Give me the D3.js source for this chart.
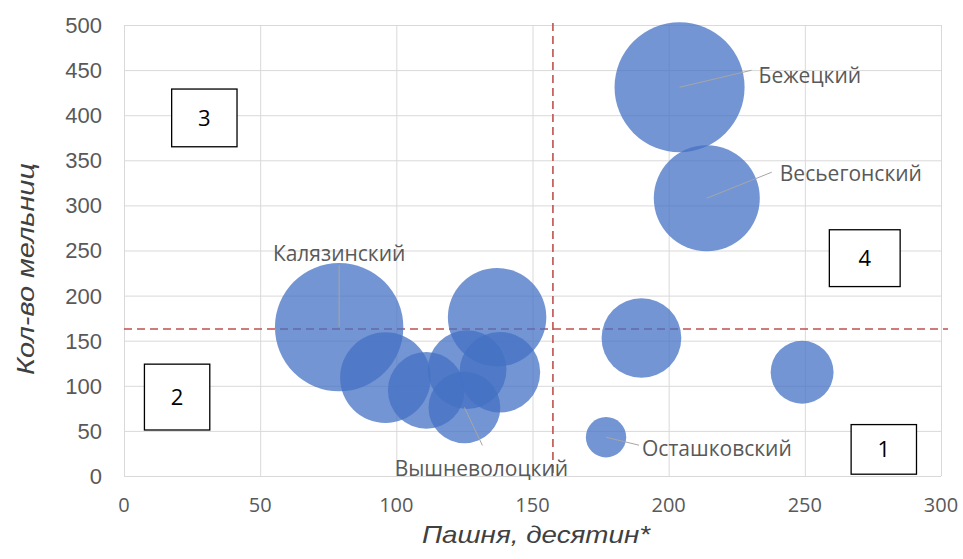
<!DOCTYPE html>
<html>
<head>
  <meta charset="utf-8">
  <title>Мельницы и пашня по уездам</title>
  <script src="https://cdnjs.cloudflare.com/ajax/libs/d3/7.8.5/d3.min.js"></script>
  <style>
    body { margin: 0; background: #fff; }
    .grid line { stroke: #d9d9d9; stroke-width: 1; }
    .tick-y { font-family: "Liberation Sans", Arial, sans-serif; font-size: 22px; fill: #595959; }
    .tick-x { font-family: "Open Sans", sans-serif; font-size: 20px; fill: #595959; }
    .axis-title { font-family: "Liberation Sans", Arial, sans-serif; font-size: 24px; font-style: italic; fill: #404040; }
    .bubble { fill: #4472c4; fill-opacity: 0.75; }
    .leader { stroke: #a6a6a6; stroke-width: 1; }
    .label { font-family: "Open Sans", sans-serif; font-size: 21px; fill: #595959; }
    .ref { stroke: #c0504d; stroke-width: 1.6; stroke-dasharray: 8 5; fill: none; }
    .quad rect { fill: #fff; stroke: #000; stroke-width: 1.3; }
    .quad text { font-family: "Open Sans", sans-serif; font-size: 22px; fill: #000; }
  </style>
</head>
<body>
  <svg width="963" height="559"></svg>
<script>
// Пашня (десятин), кол-во мельниц и размер пузыря по уездам
var xVals = [204, 214, 79, 137, 96, 111, 125, 126, 138, 190, 249, 177];
var yVals = [431, 308, 165, 176, 109, 95, 76, 118, 115, 153, 115, 43];
var sizes = [436, 290, 425, 250, 212, 152, 133, 160, 168, 164, 102, 42];
var labels = ["Бежецкий", "Весьегонский", "Калязинский", "", "", "", "Вышневолоцкий", "", "", "", "", "Осташковский"];

var xTicks = [0, 50, 100, 150, 200, 250, 300];
var yTicks = [0, 50, 100, 150, 200, 250, 300, 350, 400, 450, 500];

// средние значения (пунктирные линии)
var refX = 157.5;
var refY = 163;

// номера квадрантов
var quadNames = ["1", "2", "3", "4"];
var quadX = [[267, 291], [7.5, 31.5], [17.5, 41.5], [259, 285]];
var quadY = [[57, 2], [124, 51], [429, 365], [273, 210]];

// положение подписей относительно центра пузыря (px)
var labelLayout = {
  "Бежецкий":      {tx: 79, ty: -12, anchor: "start",  lx: 72, ly: -17},
  "Весьегонский":  {tx: 73, ty: -25, anchor: "start",  lx: 65, ly: -26},
  "Калязинский":   {tx: 0,  ty: -74, anchor: "middle", lx: 0,  ly: -62},
  "Вышневолоцкий": {tx: 17, ty: 61,  anchor: "middle", lx: 18, ly: 38},
  "Осташковский":  {tx: 36, ty: 11,  anchor: "start",  lx: 33, ly: 8}
};

var data = xVals.map(function(d, i) {
  return {x: d, y: yVals[i], s: sizes[i], name: labels[i]};
});

var svg = d3.select("svg");

var x = d3.scaleLinear().domain([0, 300]).range([124, 941]);
var y = d3.scaleLinear().domain([0, 500]).range([476, 25]);
var r = d3.scaleSqrt().domain([0, d3.max(sizes)]).range([0, 65]);

// сетка
var grid = svg.append("g").attr("class", "grid");
grid.selectAll(".gx").data(xTicks).enter().append("line")
    .attr("x1", function(d) { return x(d) + 0.5; })
    .attr("x2", function(d) { return x(d) + 0.5; })
    .attr("y1", y(500)).attr("y2", y(0));
grid.selectAll(".gy").data(yTicks).enter().append("line")
    .attr("x1", x(0)).attr("x2", x(300))
    .attr("y1", function(d) { return y(d) + 0.5; })
    .attr("y2", function(d) { return y(d) + 0.5; });

// подписи осей
svg.append("g").selectAll("text").data(yTicks).enter().append("text")
    .attr("class", "tick-y")
    .attr("x", x(0) - 22)
    .attr("y", function(d) { return y(d); })
    .attr("dy", "0.36em")
    .attr("text-anchor", "end")
    .text(function(d) { return d; });

svg.append("g").selectAll("text").data(xTicks).enter().append("text")
    .attr("class", "tick-x")
    .attr("x", function(d) { return x(d); })
    .attr("y", y(0) + 29)
    .attr("dy", "0.36em")
    .attr("text-anchor", "middle")
    .text(function(d) { return d; });

svg.append("text")
    .attr("class", "axis-title")
    .attr("text-anchor", "middle")
    .attr("textLength", 212)
    .attr("lengthAdjust", "spacingAndGlyphs")
    .attr("transform", "translate(34,269) rotate(-90)")
    .text("Кол-во мельниц");

svg.append("text")
    .attr("class", "axis-title")
    .attr("text-anchor", "middle")
    .attr("textLength", 228)
    .attr("lengthAdjust", "spacingAndGlyphs")
    .attr("x", 536)
    .attr("y", 543)
    .text("Пашня, десятин*");

// пунктирные линии средних
svg.append("line").attr("class", "ref")
    .attr("x1", x(0)).attr("x2", x(300) + 7)
    .attr("y1", y(refY)).attr("y2", y(refY));
svg.append("line").attr("class", "ref")
    .attr("x1", x(refX)).attr("x2", x(refX))
    .attr("y1", y(500) - 2).attr("y2", y(0) + 2);

// пузыри
svg.append("g").selectAll("circle").data(data).enter().append("circle")
    .attr("class", "bubble")
    .attr("cx", function(d) { return x(d.x); })
    .attr("cy", function(d) { return y(d.y); })
    .attr("r", function(d) { return r(d.s); });

// выноски и подписи
var named = data.filter(function(d) { return d.name; });

svg.append("g").selectAll("line").data(named).enter().append("line")
    .attr("class", "leader")
    .attr("x1", function(d) { return x(d.x); })
    .attr("y1", function(d) { return y(d.y); })
    .attr("x2", function(d) { return x(d.x) + labelLayout[d.name].lx; })
    .attr("y2", function(d) { return y(d.y) + labelLayout[d.name].ly; });

svg.append("g").selectAll("text").data(named).enter().append("text")
    .attr("class", "label")
    .attr("x", function(d) { return x(d.x) + labelLayout[d.name].tx; })
    .attr("y", function(d) { return y(d.y) + labelLayout[d.name].ty; })
    .attr("dy", "0.36em")
    .attr("text-anchor", function(d) { return labelLayout[d.name].anchor; })
    .text(function(d) { return d.name; });

// квадранты
var quads = svg.append("g").attr("class", "quad").selectAll("g")
    .data(quadNames).enter().append("g");

quads.append("rect")
    .attr("x", function(d, i) { return x(quadX[i][0]); })
    .attr("y", function(d, i) { return y(quadY[i][0]); })
    .attr("width", function(d, i) { return x(quadX[i][1]) - x(quadX[i][0]); })
    .attr("height", function(d, i) { return y(quadY[i][1]) - y(quadY[i][0]); });

quads.append("text")
    .attr("x", function(d, i) { return x((quadX[i][0] + quadX[i][1]) / 2); })
    .attr("y", function(d, i) { return y((quadY[i][0] + quadY[i][1]) / 2); })
    .attr("dy", "0.36em")
    .attr("text-anchor", "middle")
    .text(function(d) { return d; });
</script>
</body>
</html>
